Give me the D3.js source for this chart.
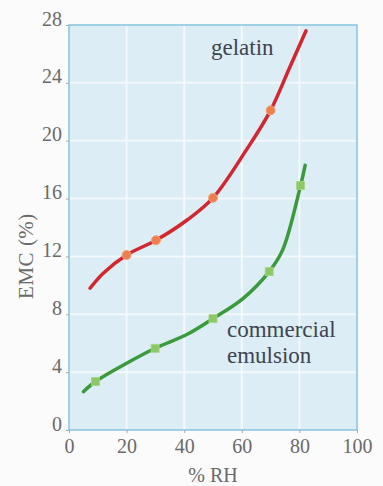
<!DOCTYPE html>
<html><head><meta charset="utf-8">
<script src="https://cdn.jsdelivr.net/npm/d3@7"></script>
<style>html,body{margin:0;padding:0;background:#fbfbfb;}</style>
</head><body>
<script>
const xTicks = [0, 20, 40, 60, 80, 100];
const yTicks = [0, 4, 8, 12, 16, 20, 24, 28];
// traced curves
const gelatinCurveX = [7.3, 11.9, 20, 30.2, 40.9, 50, 61.7, 70, 76.7, 82.3];
const gelatinCurveY = [9.8, 10.84, 12.1, 13.12, 14.5, 16.05, 19.4, 22.1, 25.1, 27.6];
const emulsionCurveX = [5.0, 9.2, 20, 29.9, 40.9, 50, 60.5, 69.5, 74.2, 80.4, 82];
const emulsionCurveY = [2.65, 3.35, 4.61, 5.65, 6.6, 7.7, 9.1, 10.95, 12.45, 16.9, 18.3];
// measured points
const gelatinPtsX = [20, 30.2, 50, 70];
const gelatinPtsY = [12.1, 13.12, 16.05, 22.1];
const emulsionPtsX = [9.2, 29.9, 50, 69.5, 80.4];
const emulsionPtsY = [3.35, 5.65, 7.7, 10.95, 16.9];

const W = 383, H = 486;
const m = {l: 69, r: 357, t: 25, b: 430};
const svg = d3.select("body").append("svg").attr("width", W).attr("height", H);
const x = d3.scaleLinear().domain([0, 100]).range([m.l, m.r]);
const y = d3.scaleLinear().domain([0, 28]).range([m.b, m.t]);
const serif = '"Liberation Serif"';

svg.append("rect").attr("x", m.l).attr("y", m.t).attr("width", m.r - m.l).attr("height", m.b - m.t)
  .attr("fill", "#dcedf5");

// grid
svg.append("g").selectAll("line").data(xTicks.slice(1, -1)).join("line")
  .attr("x1", d => x(d)).attr("x2", d => x(d)).attr("y1", m.t).attr("y2", m.b)
  .attr("stroke", "#f2f8fb").attr("stroke-width", 2);
svg.append("g").selectAll("line").data(yTicks.slice(1, -1)).join("line")
  .attr("y1", d => y(d)).attr("y2", d => y(d)).attr("x1", m.l).attr("x2", m.r)
  .attr("stroke", "#f2f8fb").attr("stroke-width", 2);

// frame
svg.append("rect").attr("x", m.l).attr("y", m.t).attr("width", m.r - m.l).attr("height", m.b - m.t)
  .attr("fill", "none").attr("stroke", "#86c3e0").attr("stroke-width", 1.5);

// x axis
const xa = svg.append("g").attr("transform", `translate(0,${m.b})`)
  .call(d3.axisBottom(x).tickValues(xTicks).tickSize(3).tickPadding(6).tickFormat(d3.format("d")));
xa.select(".domain").remove();
xa.selectAll("line").attr("stroke", "#aaa");
xa.selectAll("text").style("font-family", serif).attr("font-size", 20).attr("fill", "#6a6a6a");

// y axis
const ya = svg.append("g").attr("transform", `translate(${m.l},0)`)
  .call(d3.axisLeft(y).tickValues(yTicks).tickSize(3).tickPadding(4).tickFormat(d3.format("d")));
ya.select(".domain").remove();
ya.selectAll("line").attr("stroke", "#aaa");
ya.selectAll("text").style("font-family", serif).attr("font-size", 20).attr("fill", "#6a6a6a")
  .attr("dy", "0");

// axis titles
svg.append("text").attr("x", (m.l + m.r) / 2).attr("y", 482).attr("text-anchor", "middle")
  .style("font-family", serif).attr("font-size", 20).attr("fill", "#6a6a6a").text("% RH");
svg.append("text").attr("transform", "translate(33,256) rotate(-90)").attr("text-anchor", "middle")
  .style("font-family", serif).attr("font-size", 21).attr("letter-spacing", 0.5).attr("fill", "#6a6a6a").text("EMC (%)");

const line = d3.line().x(d => x(d[0])).y(d => y(d[1])).curve(d3.curveCatmullRom.alpha(0.5));
svg.append("path").datum(d3.zip(gelatinCurveX, gelatinCurveY)).attr("d", line)
  .attr("fill", "none").attr("stroke", "#d3262e").attr("stroke-width", 3.5).attr("stroke-linecap", "round");
svg.append("path").datum(d3.zip(emulsionCurveX, emulsionCurveY)).attr("d", line)
  .attr("fill", "none").attr("stroke", "#3a9a3c").attr("stroke-width", 3.5).attr("stroke-linecap", "round");

svg.append("g").selectAll("circle").data(d3.zip(gelatinPtsX, gelatinPtsY)).join("circle")
  .attr("cx", d => x(d[0])).attr("cy", d => y(d[1])).attr("r", 4.5)
  .attr("fill", "#ee7f4e").attr("stroke", "#f3a17a").attr("stroke-width", 1);
svg.append("g").selectAll("rect").data(d3.zip(emulsionPtsX, emulsionPtsY)).join("rect")
  .attr("x", d => x(d[0]) - 4).attr("y", d => y(d[1]) - 4).attr("width", 8).attr("height", 8)
  .attr("fill", "#8dc866").attr("stroke", "#a6d584").attr("stroke-width", 0.8);

// series labels
svg.append("text").attr("x", 211).attr("y", 55).style("font-family", serif).attr("font-size", 23)
  .attr("fill", "#3e4450").text("gelatin");
svg.append("text").attr("x", 227).attr("y", 337).style("font-family", serif).attr("font-size", 23)
  .attr("fill", "#3e4450").text("commercial");
svg.append("text").attr("x", 227).attr("y", 363).style("font-family", serif).attr("font-size", 23)
  .attr("fill", "#3e4450").text("emulsion");
</script>
</body></html>
